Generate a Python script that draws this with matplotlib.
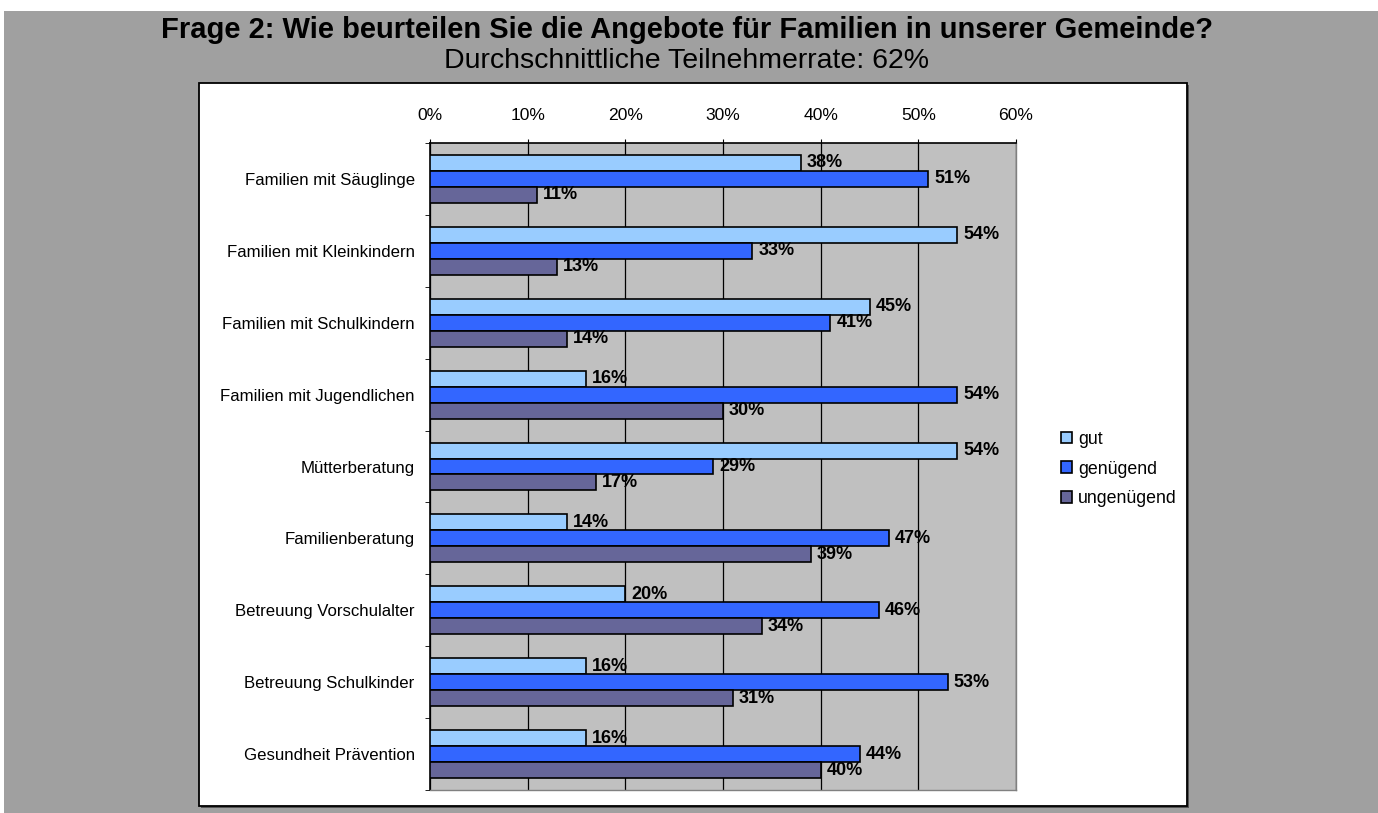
import matplotlib
matplotlib.use("Agg")
import matplotlib.pyplot as plt
import numpy as np
from matplotlib.patches import Rectangle, Patch
from matplotlib.ticker import FixedLocator

plt.rcParams["font.family"] = ["Liberation Sans", "DejaVu Sans"]

# Daten (Anteile in %)
categories = [
    "Familien mit Säuglinge",
    "Familien mit Kleinkindern",
    "Familien mit Schulkindern",
    "Familien mit Jugendlichen",
    "Mütterberatung",
    "Familienberatung",
    "Betreuung Vorschulalter",
    "Betreuung Schulkinder",
    "Gesundheit Prävention",
]
gut = [38, 54, 45, 16, 54, 14, 20, 16, 16]
genuegend = [51, 33, 41, 54, 29, 47, 46, 53, 44]
ungenuegend = [11, 13, 14, 30, 17, 39, 34, 31, 40]
series_names = ["gut", "genügend", "ungenügend"]
series_colors = ["#99ccff", "#3366ff", "#666699"]
x_ticks = [0, 10, 20, 30, 40, 50, 60]

W, H = 1378, 813
fig = plt.figure(figsize=(W / 100, H / 100), dpi=100)
fig.patch.set_facecolor("white")

# grauer Hintergrund und weisser Diagrammrahmen
fig.patches.append(Rectangle((4 / W, 0), 1 - 4 / W, 1 - 11 / H,
                             transform=fig.transFigure, facecolor="#a0a0a0",
                             edgecolor="none", zorder=0))
fig.patches.append(Rectangle((201 / W, 5 / H), 988 / W, 723 / H,
                             transform=fig.transFigure, facecolor="#555555",
                             edgecolor="none", zorder=1))
fig.patches.append(Rectangle((199 / W, 7 / H), 988 / W, 723 / H,
                             transform=fig.transFigure, facecolor="white",
                             edgecolor="black", linewidth=1.3, zorder=2))

fig.text(687 / W, 1 - 30 / H,
         "Frage 2: Wie beurteilen Sie die Angebote für Familien in unserer Gemeinde?",
         ha="center", va="center", fontsize=21, fontweight="bold")
fig.text(687 / W, 1 - 61 / H, "Durchschnittliche Teilnehmerrate: 62%",
         ha="center", va="center", fontsize=20.5)

ax = fig.add_axes([430 / W, 1 - 790 / H, 586 / W, 647 / H])
ax.set_zorder(3)
ax.set_facecolor("#c0c0c0")

y = np.arange(len(categories))
h = 0.222
for k, (vals, name, col) in enumerate(zip([gut, genuegend, ungenuegend],
                                           series_names, series_colors)):
    pos = y + (k - 1) * h
    ax.barh(pos, vals, height=h, color=col, edgecolor="black",
            linewidth=1.2, label=name, zorder=3)
    for p, v in zip(pos, vals):
        ax.text(v + 0.6, p, f"{v}%", ha="left", va="center",
                fontsize=13, fontweight="bold", zorder=4)

ax.set_xlim(0, 60)
ax.set_ylim(len(categories) - 0.5, -0.5)
ax.xaxis.tick_top()
ax.set_xticks(x_ticks)
ax.set_xticklabels([f"{t}%" for t in x_ticks], fontsize=12.6)
ax.tick_params(axis="x", length=3, pad=11.5, color="black")
ax.set_yticks(y)
ax.set_yticklabels(categories, fontsize=12.1)
ax.tick_params(axis="y", which="major", length=0, pad=11)
ax.yaxis.set_minor_locator(FixedLocator(np.arange(-0.5, len(categories), 1)))
ax.tick_params(axis="y", which="minor", length=3.5, color="black")

ax.grid(axis="x", color="black", linewidth=0.9, zorder=1)
ax.set_axisbelow(True)
ax.spines["top"].set_color("black")
ax.spines["top"].set_linewidth(1.2)
ax.spines["left"].set_color("black")
ax.spines["left"].set_linewidth(1.2)
for s in ("right", "bottom"):
    ax.spines[s].set_color("#808080")
    ax.spines[s].set_linewidth(1.0)

handles = [Patch(facecolor=c, edgecolor="black", linewidth=1.2)
           for c in series_colors]
fig.legend(handles, series_names, loc="center left",
           bbox_to_anchor=(1061 / W, 1 - 469 / H), frameon=False,
           fontsize=12.8, handlelength=0.62, handleheight=0.62,
           handletextpad=0.34, labelspacing=0.72, borderpad=0,
           borderaxespad=0)

fig.savefig("out.png", dpi=100)
